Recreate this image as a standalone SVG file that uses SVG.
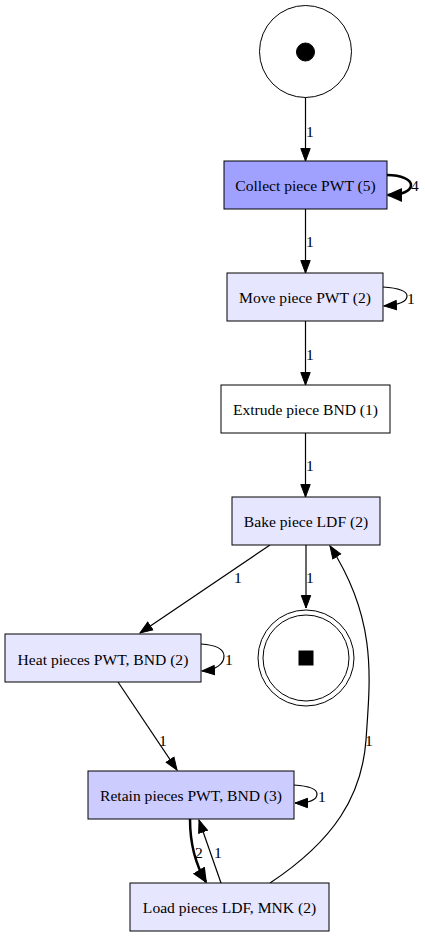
<svg xmlns="http://www.w3.org/2000/svg" width="425" height="936" viewBox="0 0 425 936">
<style>
.n rect,.n circle{stroke:#000;stroke-width:1}
.e path{fill:none;stroke:#000;stroke-width:1.2}
.e .t{stroke-width:2.5}
text{font-family:"Liberation Serif","Times New Roman",serif;font-size:15.6px;fill:#000;text-anchor:middle}
</style>
<defs>
<marker id="a" markerUnits="userSpaceOnUse" markerWidth="15" markerHeight="12" refX="13" refY="6" orient="auto" viewBox="0 0 15 12"><path d="M0.5,1.3 L13,6 L0.5,10.7 z" fill="#000" stroke="#000"/></marker>
<marker id="b" markerUnits="userSpaceOnUse" markerWidth="17" markerHeight="14" refX="14" refY="7" orient="auto" viewBox="0 0 17 14"><path d="M0.8,1.2 L14,7 L0.8,12.8 z" fill="#000" stroke="#000" stroke-width="1.5"/></marker>
</defs>
<rect width="425" height="936" fill="#fff"/>
<g class="e" id="edges">
<path d="M305.5,97 L305.5,161" marker-end="url(#a)"/>
<path class="t" d="M387,175 C402,175 411,180 411,185 C411,191 402,195 388,195" marker-end="url(#b)"/>
<path d="M305.5,209 L305.5,273" marker-end="url(#a)"/>
<path d="M383,287 C398,288 407,291 407,296 C407,302 398,305 384,306" marker-end="url(#a)"/>
<path d="M305.5,321 L305.5,385" marker-end="url(#a)"/>
<path d="M305.5,433 L305.5,497" marker-end="url(#a)"/>
<path d="M306,545 L306,608" marker-end="url(#a)"/>
<path d="M270,545 L140,633" marker-end="url(#a)"/>
<path d="M201,644 C216,645 224,649 224,656 C224,664 216,670 202,671" marker-end="url(#a)"/>
<path d="M118,682 L177,770" marker-end="url(#a)"/>
<path d="M294,785 C309,786 317,789 317,794 C317,800 309,803 295,803" marker-end="url(#a)"/>
<path class="t" d="M190,819 C190,842 194,862 206,882" marker-end="url(#b)"/>
<path d="M221,883 L199,820" marker-end="url(#a)"/>
<path d="M270,883 C335,840 362,795 366,740 C370,680 378,620 330,546" marker-end="url(#a)"/>
<text x="310" y="137">1</text>
<text x="415" y="191">4</text>
<text x="310" y="247">1</text>
<text x="411" y="304">1</text>
<text x="310" y="360">1</text>
<text x="310" y="471">1</text>
<text x="310" y="583">1</text>
<text x="238" y="583">1</text>
<text x="229" y="665">1</text>
<text x="163" y="746">1</text>
<text x="322" y="802">1</text>
<text x="369" y="746">1</text>
<text x="199" y="858">2</text>
<text x="218" y="858">1</text>
</g>
<g class="n" id="start"><circle cx="305.5" cy="51.5" r="46" fill="#fff"/><circle cx="305.5" cy="52" r="9" fill="#000" stroke="none"/></g>
<g class="n" id="collect"><rect x="224" y="161" width="163" height="48" fill="#a0a0ff"/><text x="305.5" y="191">Collect piece PWT (5)</text></g>
<g class="n" id="move"><rect x="227" y="273" width="156" height="48" fill="#e6e6ff"/><text x="305" y="303">Move piece PWT (2)</text></g>
<g class="n" id="extrude"><rect x="221" y="385" width="169" height="48" fill="#fff"/><text x="305.5" y="415">Extrude piece BND (1)</text></g>
<g class="n" id="bake"><rect x="232" y="497" width="148" height="48" fill="#e6e6ff"/><text x="306" y="527">Bake piece LDF (2)</text></g>
<g class="n" id="heat"><rect x="5" y="634" width="196" height="48" fill="#e6e6ff"/><text x="103" y="665">Heat pieces PWT, BND (2)</text></g>
<g class="n" id="end"><circle cx="306" cy="658" r="48" fill="#fff"/><circle cx="306" cy="658" r="43" fill="#fff"/><rect x="299" y="651" width="14" height="14" fill="#000" stroke="none"/></g>
<g class="n" id="retain"><rect x="88" y="771" width="206" height="48" fill="#ccccff"/><text x="191" y="801">Retain pieces PWT, BND (3)</text></g>
<g class="n" id="load"><rect x="130" y="883" width="199" height="48" fill="#e6e6ff"/><text x="229.5" y="913">Load pieces LDF, MNK (2)</text></g>
</svg>
